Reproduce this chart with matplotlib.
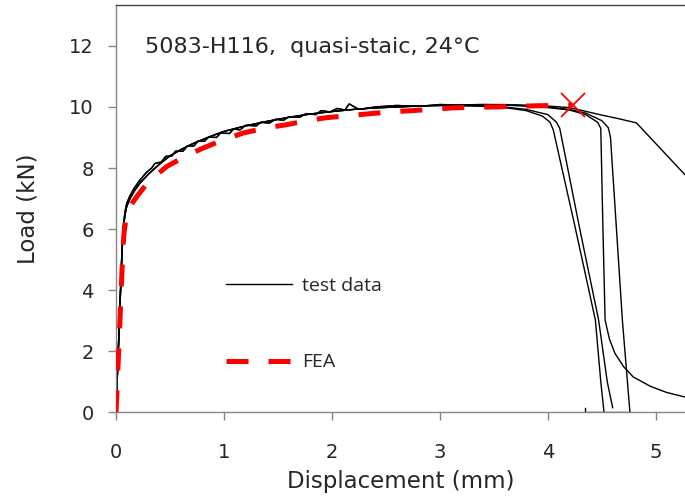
import matplotlib
matplotlib.use("Agg")
import matplotlib.pyplot as plt

# ---------------- data ----------------
rise_a_x = [0, 0.03, 0.055, 0.07, 0.085, 0.1, 0.13, 0.17, 0.22, 0.3, 0.4, 0.5, 0.6, 0.7,
            0.8, 0.9, 1.0, 1.2, 1.4, 1.6, 1.8, 2.0, 2.2, 2.4, 2.6, 2.8, 3.0]
rise_a_y = [0, 2.8, 5.2, 6.1, 6.5, 6.75, 7.0, 7.25, 7.5, 7.8, 8.12, 8.4, 8.6, 8.78,
            8.93, 9.07, 9.2, 9.38, 9.53, 9.66, 9.77, 9.85, 9.92, 9.97, 10.0, 10.03, 10.05]

rise_b_x = [0, 0.03, 0.055, 0.07, 0.085, 0.1, 0.13, 0.17, 0.22, 0.28, 0.33, 0.36, 0.42,
            0.46, 0.52, 0.55, 0.62, 0.66, 0.72, 0.76, 0.82, 0.86, 0.93, 0.97, 1.05, 1.09,
            1.15, 1.2, 1.3, 1.34, 1.42, 1.48, 1.55, 1.6, 1.7, 1.76, 1.85, 1.9, 1.98, 2.05,
            2.12, 2.16, 2.25, 2.4, 2.6, 2.8, 3.0]
rise_b_y = [0, 2.9, 5.3, 6.2, 6.6, 6.85, 7.1, 7.35, 7.6, 7.85, 8.0, 8.15, 8.2, 8.38,
            8.4, 8.55, 8.55, 8.72, 8.72, 8.88, 8.88, 9.02, 9.0, 9.15, 9.13, 9.28, 9.25,
            9.4, 9.38, 9.5, 9.47, 9.6, 9.56, 9.68, 9.66, 9.78, 9.75, 9.88, 9.84, 9.95,
            9.9, 10.1, 9.92, 10.0, 10.05, 10.02, 10.08]

c1_tail_x = [3.2, 3.4, 3.6, 3.8, 3.95, 4.02, 4.05, 4.25, 4.44, 4.49, 4.52]
c1_tail_y = [10.04, 10.02, 9.98, 9.88, 9.7, 9.5, 9.25, 6.1, 3.02, 1.0, 0.0]
c2_tail_x = [3.2, 3.4, 3.6, 3.8, 4.0, 4.08, 4.11, 4.29, 4.47, 4.55, 4.6]
c2_tail_y = [10.05, 10.04, 10.0, 9.92, 9.75, 9.5, 9.3, 6.1, 3.02, 1.0, 0.15]
c3_tail_x = [3.2, 3.4, 3.6, 3.8, 4.0, 4.2, 4.35, 4.46, 4.49, 4.51, 4.53, 4.57, 4.62,
             4.7, 4.79, 4.95, 5.1, 5.27]
c3_tail_y = [10.06, 10.07, 10.06, 10.03, 9.98, 9.9, 9.75, 9.5, 9.3, 6.0, 3.02, 2.4, 1.94,
             1.5, 1.16, 0.85, 0.65, 0.5]
c4_tail_x = [3.2, 3.4, 3.6, 3.8, 4.0, 4.2, 4.35, 4.5, 4.56, 4.58, 4.69, 4.76]
c4_tail_y = [10.07, 10.08, 10.07, 10.04, 10.0, 9.92, 9.8, 9.55, 9.32, 9.0, 3.02, 0.0]
c5_tail_x = [3.2, 3.4, 3.6, 3.8, 4.0, 4.2, 4.48, 4.65, 4.82, 5.27]
c5_tail_y = [10.07, 10.08, 10.08, 10.06, 10.03, 9.98, 9.75, 9.62, 9.48, 7.78]
base_x = [4.34, 4.34, 4.76]
base_y = [0.15, 0.02, 0.02]

fea_x = [0, 0.02, 0.04, 0.055, 0.065, 0.075, 0.085, 0.1, 0.13, 0.2, 0.3, 0.47, 0.65, 0.81,
         1.0, 1.18, 1.4, 1.58, 1.8, 1.95, 2.2, 2.35, 2.55, 2.74, 3.0, 3.11, 3.3, 3.51,
         3.7, 3.9, 4.1, 4.23]
fea_y = [0, 1.6, 3.3, 4.6, 5.4, 5.9, 6.15, 6.45, 6.75, 7.1, 7.55, 8.05, 8.4, 8.66, 8.93,
         9.15, 9.32, 9.42, 9.57, 9.65, 9.73, 9.78, 9.84, 9.88, 9.94, 9.97, 9.99, 10.0,
         10.02, 10.04, 10.05, 10.06]
fea_fail_x = [4.23]
fea_fail_y = [10.06]

x_ticks = [0, 1, 2, 3, 4, 5]
y_ticks = [0, 2, 4, 6, 8, 10, 12]

# ---------------- figure ----------------
fig = plt.figure(figsize=(6.85, 5.03), dpi=100)
ax = fig.add_axes([116 / 685, 1 - 412.3 / 503, 1 - 116 / 685, (412.3 - 5) / 503])

tests = [
    (rise_a_x + c1_tail_x, rise_a_y + c1_tail_y),
    (rise_b_x + c2_tail_x, rise_b_y + c2_tail_y),
    (rise_a_x + c3_tail_x, rise_a_y + c3_tail_y),
    (rise_b_x + c4_tail_x, rise_b_y + c4_tail_y),
    (rise_a_x + c5_tail_x, rise_a_y + c5_tail_y),
    (base_x, base_y),
]
test_line = None
for tx, ty in tests:
    ln, = ax.plot(tx, ty, color="black", lw=1.0, solid_joinstyle="round", zorder=2)
    if test_line is None:
        test_line = ln

fea_line, = ax.plot(fea_x, fea_y, color="#ff0000", lw=3.6, dashes=(4.4, 4.0),
                    solid_capstyle="butt", dash_capstyle="butt", zorder=3)
ax.plot(fea_fail_x, fea_fail_y, marker="x", ms=17, mew=1.3, color="#ff0000",
        linestyle="none", zorder=4)

ax.set_xlim(0, 5.27)
ax.set_ylim(0, 13.34)
ax.set_xticks(x_ticks)
ax.set_yticks(y_ticks)
ax.set_xticklabels([str(v) for v in x_ticks])
ax.set_yticklabels([str(v) for v in y_ticks])

grey = "#868686"
for side in ["left", "bottom"]:
    ax.spines[side].set_color(grey)
    ax.spines[side].set_linewidth(1.0)
ax.spines["top"].set_color("#404040")
ax.spines["top"].set_linewidth(1.0)
ax.spines["right"].set_visible(False)

ax.tick_params(axis="both", direction="out", length=6, width=1.0, color=grey,
               labelsize=14, labelcolor="#262626")
ax.tick_params(axis="x", pad=16)
ax.tick_params(axis="y", pad=10)

ax.set_xlabel("Displacement (mm)", fontsize=16.5, color="#262626", labelpad=6)
ax.set_ylabel("Load (kN)", fontsize=16.5, color="#262626", labelpad=21)

ax.text(0.051, 0.882, "5083-H116,  quasi-staic, 24\u00b0C", transform=ax.transAxes,
        ha="left", va="baseline", fontsize=16, family="DejaVu Sans", color="#262626")

leg = ax.legend([test_line, fea_line], ["test data", "FEA"], loc="upper left",
                bbox_to_anchor=(0.163, 0.375), frameon=False, handlelength=3.4,
                handletextpad=0.5, labelspacing=3.0,
                prop={"family": "Open Sans", "size": 14})
for t in leg.get_texts():
    t.set_color("#262626")

fig.savefig("out.png", dpi=100)
